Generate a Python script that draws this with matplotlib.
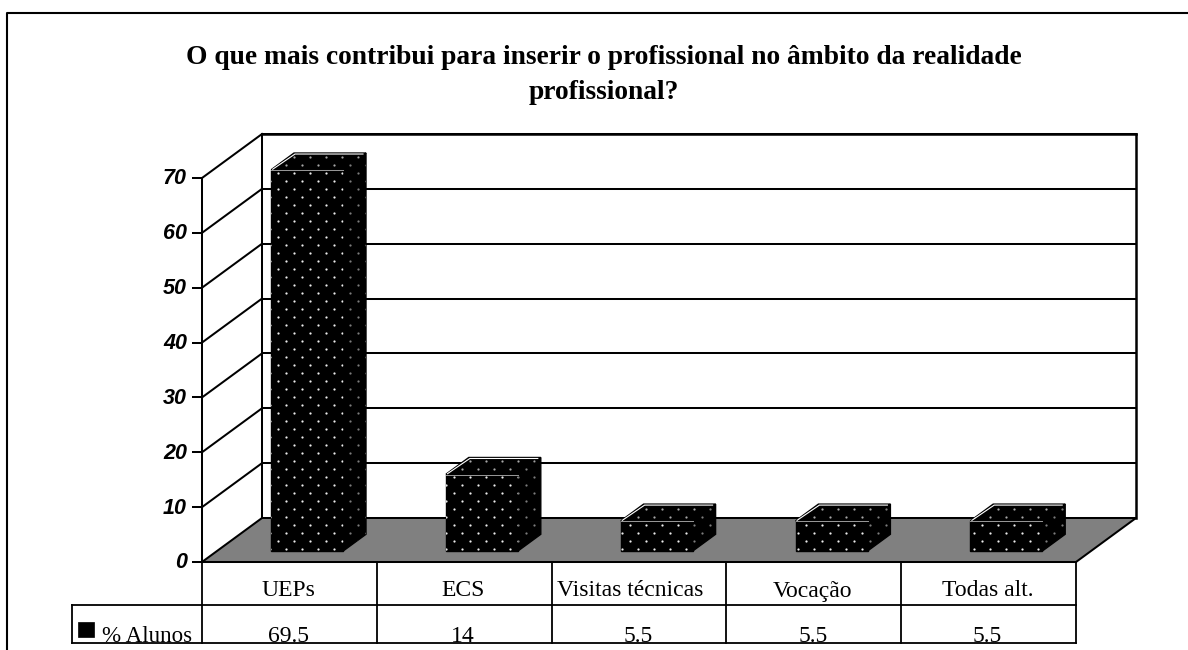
import numpy as np
import matplotlib
matplotlib.use("Agg")
import matplotlib.pyplot as plt
from matplotlib.patches import Polygon, Rectangle

categories = ["UEPs", "ECS", "Visitas técnicas", "Vocação", "Todas alt."]
values = [69.5, 14, 5.5, 5.5, 5.5]
y_ticks = [0, 10, 20, 30, 40, 50, 60, 70]
series_name = "% Alunos"
title = "O que mais contribui para inserir o profissional no âmbito da realidade\nprofissional?"

X0, Y0 = 202.0, 562.0          # front-left floor corner (pixels)
DX, DY = 60.0, -44.0           # full depth offset
CAT_W = 874.0 / len(categories)
UNIT = 384.0 / 70.0
BAR_W = 72.0
BAR_SHIFT = 2.8
D0, D1 = 0.25, 0.63            # bar depth extent as a fraction of floor depth
YMAX = 70
LW = 1.45


def P(cat, val, depth=0.0):
    return (X0 + cat * CAT_W + depth * DX, Y0 - val * UNIT + depth * DY)


fig = plt.figure(figsize=(11.88, 6.5), dpi=100)
ax = fig.add_axes([0, 0, 1, 1])
ax.set_xlim(0, 1188)
ax.set_ylim(650, 0)
ax.axis("off")
n = len(categories)


def line(p, q, z=2, lw=LW, c="black"):
    ax.plot([p[0], q[0]], [p[1], q[1]], color=c, lw=lw, zorder=z, solid_capstyle="projecting")


# outer frame: left and top edges only
ax.plot([7, 7, 1188], [650, 12.5, 12.5], color="black", lw=1.5, zorder=1)

# floor
ax.add_patch(Polygon([P(0, 0), P(n, 0), P(n, 0, 1), P(0, 0, 1)], closed=True,
                     facecolor="#808080", edgecolor="black", lw=LW, zorder=2))

# walls and grid
for t in y_ticks[1:]:
    line(P(0, t), P(0, t, 1), z=2)
    line(P(0, t, 1), P(n, t, 1), z=2)
line(P(0, 0), P(0, YMAX))
line(P(0, 0, 1), P(0, YMAX, 1))
line(P(0, YMAX, 1), P(n, YMAX, 1), lw=1.8)
line(P(n, 0, 1), P(n, YMAX, 1), lw=1.8)

# y ticks
for t in y_ticks:
    x, y = P(0, t)
    ax.plot([x - 9, x], [y, y], color="black", lw=LW, zorder=2)
    ax.text(x - 15, y + 1, str(t), ha="right", va="center", family="Liberation Sans",
            weight="bold", style="italic", fontsize=15.5)

# bars
DOT_X, DOT_Y = 278.0, 172.7    # phase of the fill pattern
for i, v in enumerate(values):
    left = i + ((CAT_W - BAR_W) / 2 + BAR_SHIFT) / CAT_W
    right = left + BAR_W / CAT_W
    front = [P(left, 0, D0), P(right, 0, D0), P(right, v, D0), P(left, v, D0)]
    side = [P(right, 0, D0), P(right, 0, D1), P(right, v, D1), P(right, v, D0)]
    topf = [P(left, v, D0), P(right, v, D0), P(right, v, D1), P(left, v, D1)]
    for poly, shade in ((front, "#ececec"), (side, "#7d7d7d"), (topf, "#a8a8a8")):
        patch = Polygon(poly, closed=True, facecolor="black", edgecolor="black", lw=1.0, zorder=3)
        ax.add_patch(patch)
        xa = DOT_X + 16 * np.arange(-5, 60)
        ya = DOT_Y + 16 * np.arange(-2, 26)
        g1 = np.array([(a, b) for a in xa for b in ya])
        g2 = g1 + 8.0
        pts = np.vstack([g1, g2])
        dots = ax.scatter(pts[:, 0], pts[:, 1], s=2.6, c=shade, linewidths=0, zorder=4)
        dots.set_clip_path(patch)
    # highlights on the top face
    a, b, c_, d = P(left, v, D0), P(right, v, D0), P(right, v, D1), P(left, v, D1)
    ax.plot([a[0], b[0]], [a[1] + 0.3, b[1] + 0.3], color="#9a9a9a", lw=0.7, zorder=5)
    ax.plot([a[0] + 1.5, d[0] + 1, c_[0] - 3], [a[1] - 0.5, d[1] + 1, c_[1] + 1],
            color="white", lw=0.8, zorder=5)

# data table
TABLE_MID = 604.5
TABLE_BOT = 643.0
TABLE_LEFT = 72.0
x_right = P(n, 0)[0]
ax.plot([TABLE_LEFT, x_right], [TABLE_MID, TABLE_MID], color="black", lw=1.3, zorder=2)
ax.plot([TABLE_LEFT, x_right], [TABLE_BOT, TABLE_BOT], color="black", lw=1.3, zorder=2)
ax.plot([TABLE_LEFT, TABLE_LEFT], [TABLE_MID, TABLE_BOT], color="black", lw=1.3, zorder=2)
line(P(0, 0), P(n, 0), z=3)
for i in range(n + 1):
    xv = P(i, 0)[0]
    ax.plot([xv, xv], [Y0, TABLE_BOT], color="black", lw=1.3, zorder=2)
for i, (c, v) in enumerate(zip(categories, values)):
    xc = P(i + 0.5, 0)[0] - 1
    xlabel = xc - 8 if i == 2 else xc
    ax.text(xlabel, 596.5, c, ha="center", va="baseline", family="Liberation Serif", fontsize=17)
    ax.text(xc, 642, f"{v:g}", ha="center", va="baseline", family="Liberation Serif", fontsize=17)
ax.add_patch(Rectangle((78, 622), 16, 15, facecolor="black", edgecolor="black", lw=0.5, zorder=3))
ax.text(102, 642, series_name, ha="left", va="baseline", family="Liberation Serif", fontsize=16.6)

# title
ax.text(603.5, 75, title, ha="center", va="center", family="Liberation Serif", weight="bold",
        fontsize=19.8, linespacing=1.48)

fig.savefig("out.png", dpi=100, facecolor="white")
